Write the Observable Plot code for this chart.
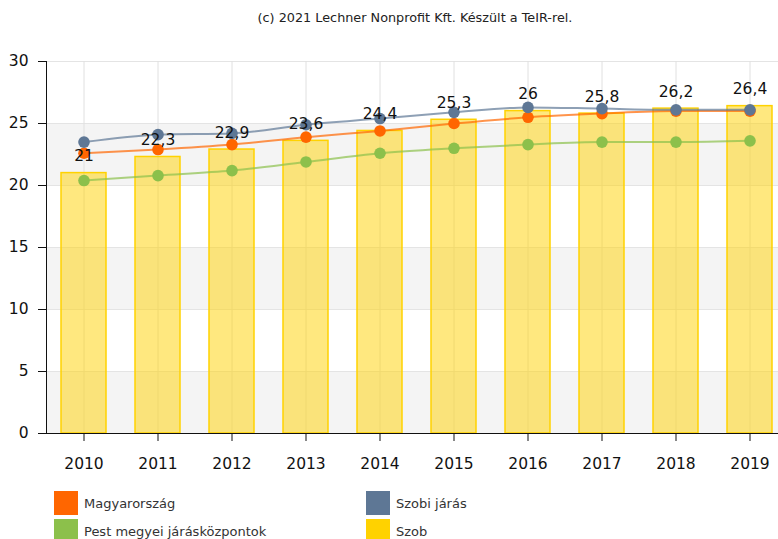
<!DOCTYPE html>
<html><head><meta charset="utf-8">
<script src="https://cdn.jsdelivr.net/npm/d3@7"></script>
<script src="https://cdn.jsdelivr.net/npm/@observablehq/plot@0.6"></script>
<style>
html,body{margin:0;padding:0;background:#fff;width:778px;height:539px;overflow:hidden;font-family:"DejaVu Sans",Verdana,sans-serif;}
#title{height:36px;line-height:36px;text-align:center;font-size:12.8px;color:#222;padding-left:52px;box-sizing:border-box;width:778px;}
#chart{height:440px;overflow:visible;}
#legend{margin-top:15px;margin-left:54px;display:grid;grid-template-columns:312px 300px;row-gap:4px;}
.item{display:flex;align-items:center;height:24px;font-size:13px;color:#333;}
.sw{width:24px;height:24px;margin-right:6px;flex:none;}
</style></head><body>
<div id="title">(c) 2021 Lechner Nonprofit Kft. Készült a TeIR-rel.</div>
<div id="chart"></div>
<div id="legend"></div>
<script>
const years = ["2010","2011","2012","2013","2014","2015","2016","2017","2018","2019"];
const szob = [21, 22.3, 22.9, 23.6, 24.4, 25.3, 26, 25.8, 26.2, 26.4];
const szobiJaras = [23.5, 24.1, 24.2, 24.9, 25.4, 25.9, 26.3, 26.2, 26.1, 26.1];
const magyarorszag = [22.6, 22.9, 23.3, 23.9, 24.4, 25.0, 25.5, 25.8, 26.0, 26.0];
const pestKozpontok = [20.4, 20.8, 21.2, 21.9, 22.6, 23.0, 23.3, 23.5, 23.5, 23.6];
const yTicks = [0, 5, 10, 15, 20, 25, 30];
const seriesNames = ["Magyarország", "Szobi járás", "Pest megyei járásközpontok", "Szob"];
const seriesColors = ["#FF6600", "#5E7795", "#8CC04B", "#FFD200"];

const bars = years.map((y, i) => ({year: y, value: szob[i]}));
const mk = arr => years.map((y, i) => ({year: y, value: arr[i]}));
const lines = [
  {name: seriesNames[2], color: seriesColors[2], data: mk(pestKozpontok)},
  {name: seriesNames[0], color: seriesColors[0], data: mk(magyarorszag)},
  {name: seriesNames[1], color: seriesColors[1], data: mk(szobiJaras)}
];
// alternating background stripes between ticks (grey: 0-5, 10-15, 20-25)
const stripes = yTicks.slice(0, -1).map((t, i) => ({y1: t, y2: yTicks[i + 1], grey: i % 2 === 0})).filter(d => d.grey);

const marks = [
  Plot.rectY(stripes, {y1: "y1", y2: "y2", fill: "#f4f4f4"}),
  Plot.gridY(yTicks, {stroke: "#e4e4e4", strokeOpacity: 1}),
  Plot.gridX(years, {stroke: "#e0e0e0", strokeOpacity: 1}),
  Plot.barY(bars, {x: "year", y: "value", fill: "#FFD200", fillOpacity: 0.5, stroke: "#FFD200", strokeWidth: 1.5})
];
for (const s of lines) {
  marks.push(Plot.line(s.data, {x: "year", y: "value", stroke: s.color, strokeWidth: 2, strokeOpacity: 0.7, curve: "monotone-x"}));
  marks.push(Plot.dot(s.data, {x: "year", y: "value", fill: s.color, r: 5.8}));
}
marks.push(Plot.text(bars, {x: "year", y: "value", text: d => String(d.value).replace(".", ","), dy: -17, fontSize: 15.5, fill: "#111"}));
marks.push(Plot.axisY(yTicks, {tickSize: 8, tickPadding: 10, fontSize: 15.5, color: "#111", label: null}));
marks.push(Plot.axisX({tickSize: 8, tickPadding: 16, fontSize: 15.5, color: "#111", label: null}));
marks.push(Plot.frame({anchor: "left", stroke: "#111"}));
marks.push(Plot.frame({anchor: "bottom", stroke: "#111"}));

const chart = Plot.plot({
  width: 787,
  height: 440,
  marginTop: 25,
  marginLeft: 46,
  marginRight: 0,
  marginBottom: 43,
  style: {maxWidth: "none", fontFamily: "DejaVu Sans, Verdana, sans-serif", overflow: "visible", background: "white"},
  x: {type: "band", domain: years, paddingInner: 0.39, paddingOuter: 0.195},
  y: {domain: [0, 30]},
  marks
});
document.getElementById("chart").appendChild(chart);

const legendOrder = [0, 1, 2, 3];
const leg = document.getElementById("legend");
for (const i of legendOrder) {
  const it = document.createElement("div");
  it.className = "item";
  const sw = document.createElement("div");
  sw.className = "sw";
  sw.style.background = seriesColors[i];
  const tx = document.createElement("span");
  tx.textContent = seriesNames[i];
  it.appendChild(sw); it.appendChild(tx);
  leg.appendChild(it);
}
</script>
</body></html>
